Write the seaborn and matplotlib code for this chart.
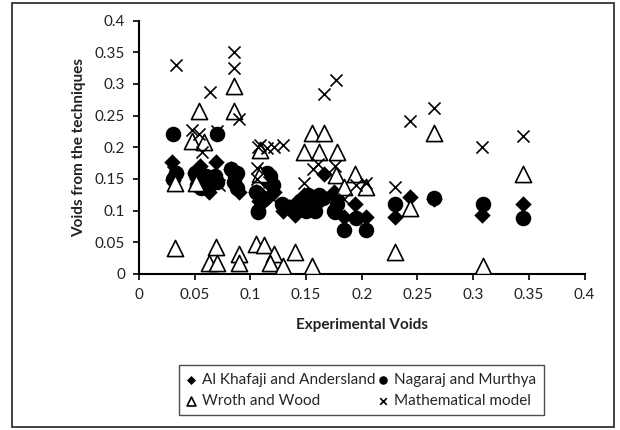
import matplotlib
matplotlib.use("Agg")
import matplotlib.pyplot as plt
import seaborn as sns
import pandas as pd
from matplotlib.patches import Rectangle

# ---- data ----
khafaji_x = [0.030, 0.031, 0.033, 0.050, 0.052, 0.055, 0.058, 0.063, 0.066, 0.069,
             0.083, 0.086, 0.090, 0.105, 0.108, 0.112, 0.118, 0.121,
             0.129, 0.135, 0.140, 0.148, 0.155, 0.166, 0.175, 0.184, 0.194, 0.204,
             0.230, 0.243, 0.265, 0.308, 0.345, 0.115, 0.160, 0.178]
khafaji_y = [0.177, 0.148, 0.160, 0.160, 0.150, 0.170, 0.145, 0.130, 0.150, 0.177,
             0.165, 0.140, 0.130, 0.130, 0.115, 0.150, 0.140, 0.130,
             0.100, 0.105, 0.093, 0.125, 0.110, 0.158, 0.130, 0.090, 0.110, 0.090,
             0.090, 0.122, 0.119, 0.093, 0.111, 0.120, 0.110, 0.120]

nagaraj_x = [0.031, 0.033, 0.050, 0.052, 0.056, 0.060, 0.064, 0.070, 0.068,
             0.083, 0.086, 0.088, 0.085, 0.105, 0.107, 0.110, 0.115, 0.118, 0.120,
             0.128, 0.135, 0.142, 0.150, 0.155, 0.158, 0.162, 0.175, 0.178, 0.184,
             0.195, 0.204, 0.230, 0.265, 0.309, 0.345, 0.031, 0.070,
             0.107, 0.108, 0.145, 0.152, 0.165, 0.176, 0.060, 0.088]
nagaraj_y = [0.150, 0.160, 0.160, 0.140, 0.135, 0.155, 0.150, 0.145, 0.155,
             0.165, 0.155, 0.135, 0.145, 0.130, 0.100, 0.115, 0.160, 0.155, 0.140,
             0.110, 0.105, 0.110, 0.100, 0.120, 0.100, 0.125, 0.100, 0.110, 0.070,
             0.088, 0.069, 0.110, 0.120, 0.111, 0.088, 0.221, 0.221,
             0.097, 0.125, 0.115, 0.125, 0.120, 0.098, 0.140, 0.160]

wroth_x = [0.032, 0.032, 0.054, 0.085, 0.085, 0.048, 0.058, 0.051, 0.069, 0.063,
           0.070, 0.090, 0.090, 0.105, 0.112, 0.121, 0.118, 0.129, 0.140, 0.155,
           0.230, 0.309, 0.109, 0.109, 0.148, 0.155, 0.166, 0.162, 0.178, 0.177,
           0.184, 0.194, 0.204, 0.243, 0.265, 0.345]
wroth_y = [0.041, 0.143, 0.257, 0.296, 0.257, 0.210, 0.208, 0.143, 0.042, 0.018,
           0.018, 0.031, 0.018, 0.047, 0.046, 0.031, 0.017, 0.012, 0.035, 0.012,
           0.035, 0.012, 0.195, 0.158, 0.193, 0.222, 0.222, 0.193, 0.193, 0.157,
           0.137, 0.158, 0.138, 0.104, 0.223, 0.158]

model_x = [0.033, 0.085, 0.085, 0.064, 0.090, 0.048, 0.054, 0.057, 0.070, 0.107,
           0.109, 0.115, 0.121, 0.129, 0.106, 0.120, 0.166, 0.177, 0.148, 0.156,
           0.161, 0.176, 0.184, 0.195, 0.204, 0.230, 0.243, 0.265, 0.308, 0.345,
           0.031, 0.072, 0.117, 0.106]
model_y = [0.330, 0.350, 0.325, 0.288, 0.245, 0.227, 0.221, 0.192, 0.225, 0.200,
           0.203, 0.199, 0.200, 0.203, 0.167, 0.119, 0.284, 0.306, 0.143, 0.165,
           0.173, 0.171, 0.119, 0.140, 0.144, 0.138, 0.242, 0.262, 0.200, 0.218,
           0.161, 0.140, 0.145, 0.150]

labels = ["Al Khafaji and Andersland", "Nagaraj and Murthya",
          "Wroth and Wood", "Mathematical model"]
x_ticks = [0, 0.05, 0.1, 0.15, 0.2, 0.25, 0.3, 0.35, 0.4]
tick_labels = ["0", "0.05", "0.1", "0.15", "0.2", "0.25", "0.3", "0.35", "0.4"]

sns.set_theme(style="white")
plt.rcParams["font.family"] = ["Lato", "DejaVu Sans"]

fig = plt.figure(figsize=(6.2, 4.3), dpi=100)
ax = fig.add_axes([0.224, 0.363, 0.719, 0.589])

df_k = pd.DataFrame({"x": khafaji_x, "y": khafaji_y})
df_n = pd.DataFrame({"x": nagaraj_x, "y": nagaraj_y})
df_w = pd.DataFrame({"x": wroth_x, "y": wroth_y})
df_m = pd.DataFrame({"x": model_x, "y": model_y})

sns.scatterplot(data=df_k, x="x", y="y", ax=ax, marker="D", s=70, color="black",
                edgecolor="black", linewidth=0, label=labels[0], zorder=3)
sns.scatterplot(data=df_n, x="x", y="y", ax=ax, marker="o", s=125, color="black",
                edgecolor="black", linewidth=0, label=labels[1], zorder=3)
sns.scatterplot(data=df_w, x="x", y="y", ax=ax, marker="^", s=135, facecolor="white",
                edgecolor="black", linewidth=1.2, label=labels[2], zorder=4)
sns.scatterplot(data=df_m, x="x", y="y", ax=ax, marker="x", s=75, color="black",
                linewidth=1.2, label=labels[3], zorder=5)

handles, labs = ax.get_legend_handles_labels()
if ax.get_legend() is not None:
    ax.get_legend().remove()

ax.set_xlim(0, 0.4)
ax.set_ylim(0, 0.4)
ax.set_xticks(x_ticks)
ax.set_xticklabels(tick_labels)
ax.set_yticks(x_ticks)
ax.set_yticklabels(tick_labels)
ax.tick_params(axis="both", labelsize=11, color="black", length=4, width=1.2,
               direction="out", left=True, bottom=True, labelcolor="#222222", pad=6)
for s in ["top", "right"]:
    ax.spines[s].set_visible(False)
for s in ["left", "bottom"]:
    ax.spines[s].set_color("black")
    ax.spines[s].set_linewidth(1.5)
ax.set_xlabel("Experimental Voids", fontsize=11, fontweight="bold", labelpad=12,
              color="#222222")
ax.set_ylabel("Voids from the techniques", fontsize=11, fontweight="bold",
              labelpad=6, color="#222222")

order = [0, 2, 1, 3]
leg = fig.legend([handles[i] for i in order], [labs[i] for i in order],
                 loc="lower center", bbox_to_anchor=(0.583, 0.016), ncol=2,
                 fontsize=11, frameon=True, fancybox=False, markerscale=0.55,
                 handlelength=0.6, handletextpad=0.4, columnspacing=0.2,
                 borderpad=0.5, labelspacing=0.45)
leg.get_frame().set_edgecolor("#222222")
leg.get_frame().set_linewidth(1.0)
leg.get_frame().set_boxstyle("square", pad=0)

fig.patches.append(Rectangle((0.019, 0.008), 0.971, 0.986, transform=fig.transFigure,
                             fill=False, edgecolor="#222222", linewidth=1.2))

fig.savefig("out.png", dpi=100)
